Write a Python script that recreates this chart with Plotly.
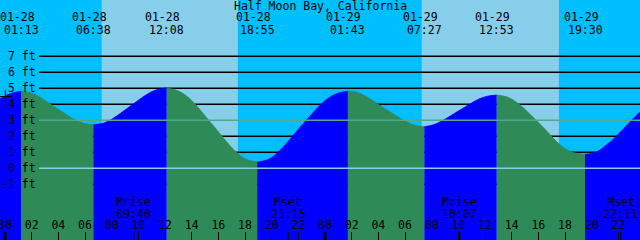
import pandas as pd
import plotly.graph_objects as go

YEAR = "2025-"
BASE = pd.Timestamp(YEAR + "01-28 00:00")

# ---- data ----
# tide curve: hours after 01-28 00:00 and height in feet
curve_hours = [-0.375, 0.42, 1.217,
               1.894, 2.571, 3.925, 5.279, 5.956, 6.633,
               7.321, 8.008, 9.383, 10.758, 11.446, 12.133,
               12.981, 13.829, 15.525, 17.221, 18.069, 18.917,
               19.767, 20.617, 22.317, 24.017, 24.867, 25.717,
               26.433, 27.150, 28.583, 30.017, 30.733, 31.45,
               32.129, 32.808, 34.167, 35.525, 36.204, 36.883,
               37.710, 38.537, 40.192, 41.846, 42.673, 43.5,
               44.3, 45.1, 45.9, 46.7, 47.625]
curve_feet = [4.35, 4.67, 4.81,
              4.73, 4.47, 3.72, 3.02, 2.80, 2.72,
              2.81, 3.07, 3.88, 4.68, 4.93, 5.02,
              4.84, 4.38, 2.76, 1.12, 0.57, 0.39,
              0.56, 1.12, 2.74, 4.24, 4.66, 4.83,
              4.745, 4.45, 3.67, 2.95, 2.69, 2.60,
              2.72, 2.98, 3.66, 4.32, 4.51, 4.58,
              4.44, 4.02, 2.70, 1.32, 0.98, 0.86,
              1.00, 1.45, 2.05, 2.75, 3.54]

# high / low tide times
tide_dates = ["01-28", "01-28", "01-28", "01-28", "01-29", "01-29", "01-29", "01-29"]
tide_times = ["01:13", "06:38", "12:08", "18:55", "01:43", "07:27", "12:53", "19:30"]

# daylight
sunrise = ["01-28 07:15", "01-29 07:15"]
sunset = ["01-28 17:28", "01-29 17:33"]

# moon
moon_labels = ["Mrise", "Mset", "Mrise", "Mset"]
moon_dates = ["01-28", "01-28", "01-29", "01-29"]
moon_times = ["09:40", "21:15", "10:07", "22:11"]

# levels
ft_levels = [7, 6, 5, 4, 3, 2, 1, 0, -1]
midnights = ["01-28 00:00", "01-29 00:00"]

# current position marker
now_time = "01-28 00:02"
now_feet = 4.49

title = "Half Moon Bay, California"

# ---- styling ----
NIGHT = "#00BFFF"
DAY = "#87CEEB"
RISE = "#0000FF"
FALL = "#2E8B57"
FONT = "DejaVu Sans Mono"
FS = 11.5

def ts(s):
    return pd.Timestamp(YEAR + s)

xs = [BASE + pd.Timedelta(hours=h) for h in curve_hours]
ext_ts = [ts(d + " " + t) for d, t in zip(tide_dates, tide_times)]

# split indices at extremes
bounds = [0]
for e in ext_ts:
    idx = min(range(len(xs)), key=lambda i: abs((xs[i] - e).total_seconds()))
    bounds.append(idx)
bounds.append(len(xs) - 1)

fig = go.Figure()
for a, b in zip(bounds[:-1], bounds[1:]):
    col = RISE if curve_feet[b] > curve_feet[a] else FALL
    fig.add_trace(go.Scatter(x=[xs[a], xs[b]], y=[-6, -6], mode="lines",
                             line=dict(width=0), hoverinfo="skip", showlegend=False))
    fig.add_trace(go.Scatter(x=xs[a:b + 1], y=curve_feet[a:b + 1], mode="lines",
                             line=dict(width=0.8, color=col, shape="spline"),
                             fill="tonexty", fillcolor=col,
                             hoverinfo="skip", showlegend=False))

fig.add_trace(go.Scatter(x=[ts(now_time)], y=[now_feet], mode="markers",
                         marker=dict(symbol="cross-thin-open", size=9, color="black",
                                     line=dict(color="black", width=1.2)),
                         hoverinfo="skip", showlegend=False))

shapes = []
for sr, ss in zip(sunrise, sunset):
    shapes.append(dict(type="rect", xref="x", yref="paper", x0=ts(sr), x1=ts(ss),
                       y0=0, y1=1, fillcolor=DAY, line=dict(width=0), layer="below"))
LX = 39 / 640
for v in ft_levels:
    if v == 3:
        shapes.append(dict(type="line", xref="paper", yref="y", x0=LX, x1=1, y0=v, y1=v,
                           line=dict(color="#52A88C", width=1.5), layer="above"))
    elif v == 0:
        shapes.append(dict(type="line", xref="paper", yref="y", x0=LX, x1=1, y0=v, y1=v,
                           line=dict(color="#87CEEB", width=1.5), layer="above"))
    else:
        shapes.append(dict(type="line", xref="paper", yref="y", x0=LX, x1=1, y0=v, y1=v,
                           line=dict(color="black", width=1.5), layer="below"))
for m in midnights:
    shapes.append(dict(type="line", xref="x", yref="paper", x0=ts(m), x1=ts(m),
                       y0=0, y1=8 / 240, line=dict(color="black", width=3), layer="above"))
for d, t in zip(moon_dates, moon_times):
    shapes.append(dict(type="line", xref="x", yref="paper", x0=ts(d + " " + t), x1=ts(d + " " + t),
                       y0=0, y1=8 / 240, line=dict(color="black", width=1), layer="above"))

ann = []
ann.append(dict(text=title, xref="paper", yref="paper", x=0.5, y=1 - 6 / 240,
                xanchor="center", yanchor="middle", showarrow=False))
for e, d, t in zip(ext_ts, tide_dates, tide_times):
    ann.append(dict(text=d, x=e, xref="x", yref="paper", y=1 - 17.5 / 240, xshift=-4,
                    xanchor="center", yanchor="middle", showarrow=False))
    ann.append(dict(text=t, x=e, xref="x", yref="paper", y=1 - 29.5 / 240,
                    xanchor="center", yanchor="middle", showarrow=False))
for lab, d, t in zip(moon_labels, moon_dates, moon_times):
    x = ts(d + " " + t)
    ann.append(dict(text=lab, x=x, xref="x", yref="paper", y=1 - 202 / 240,
                    xanchor="center", yanchor="middle", showarrow=False))
    ann.append(dict(text=t, x=x, xref="x", yref="paper", y=1 - 213.5 / 240,
                    xanchor="center", yanchor="middle", showarrow=False))
for v in ft_levels:
    ann.append(dict(text=f"{v} ft", x=37 / 640, xref="paper", y=v, yref="y",
                    xanchor="right", yanchor="middle", showarrow=False))
for a_ in ann:
    a_["font"] = dict(family=FONT, size=FS, color="black")
    a_["borderpad"] = 0

x0 = BASE + pd.Timedelta(hours=-0.375)
x1 = BASE + pd.Timedelta(hours=47.625)

fig.update_layout(
    width=640, height=240, autosize=False,
    margin=dict(l=0, r=0, t=0, b=0, pad=0),
    paper_bgcolor=NIGHT, plot_bgcolor=NIGHT,
    shapes=shapes, annotations=ann, showlegend=False,
    xaxis=dict(type="date", range=[x0, x1], showgrid=False, zeroline=False, showline=False,
               tick0=BASE, dtick=2 * 3600 * 1000, tickformat="%H",
               ticks="inside", ticklen=8, tickwidth=1, tickcolor="black",
               ticklabelposition="inside", ticklabeloverflow="allow",
               tickfont=dict(family=FONT, size=FS, color="black"),
               automargin=False, fixedrange=True),
    yaxis=dict(range=[-4.48, 10.52], showgrid=False, zeroline=False, showline=False,
               showticklabels=False, ticks="", automargin=False, fixedrange=True),
)

fig.write_html("out.html", config={"displayModeBar": False})
